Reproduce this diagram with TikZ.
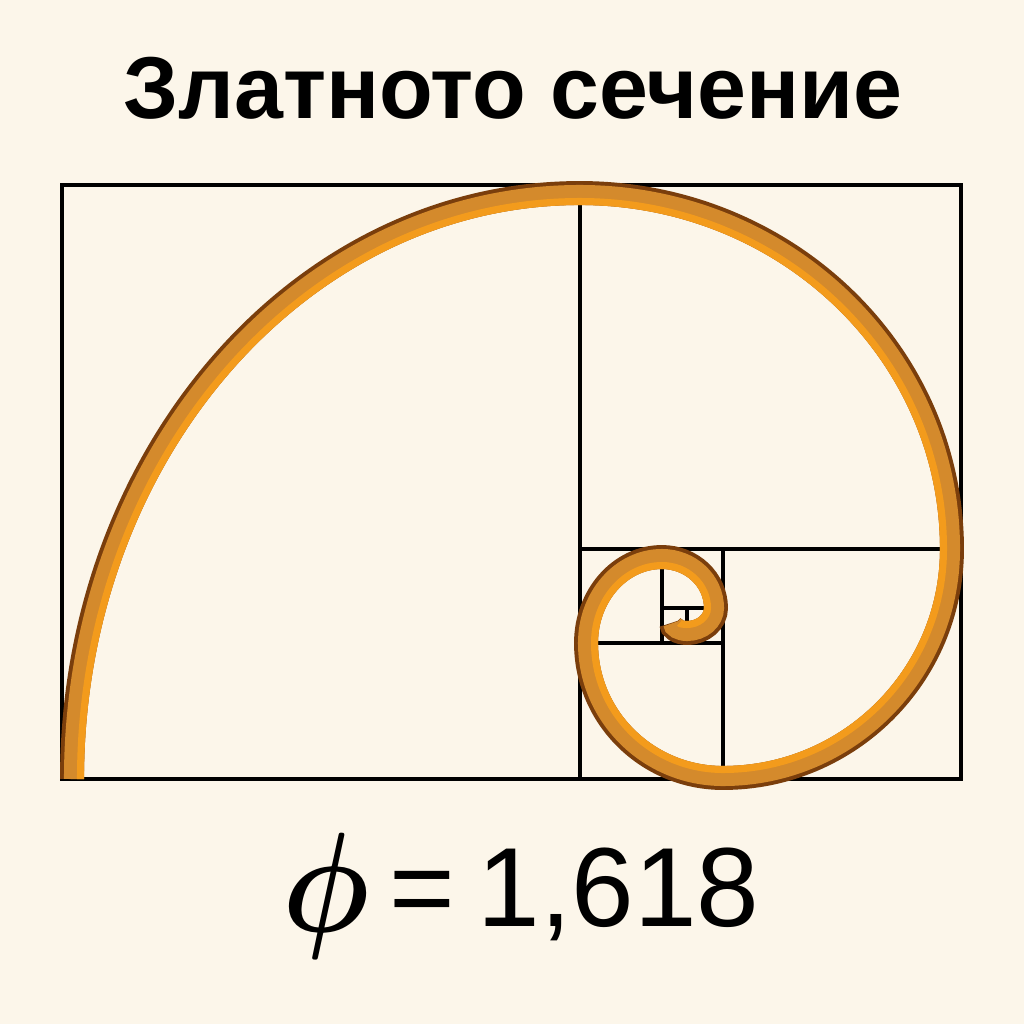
\documentclass[tikz,border=0pt]{standalone}
\usepackage{fontspec}
\setmainfont{Liberation Sans}

\definecolor{paper}{RGB}{252,246,234}
\definecolor{spiralbrown}{RGB}{122,62,12}
\definecolor{spiraltan}{RGB}{212,138,44}
\definecolor{spiralorange}{RGB}{243,155,28}

\begin{document}
\begin{tikzpicture}[
    x=0.01cm, y=-0.01cm,
    grid_line/.style={draw=black, line width=1.15pt},
    title_label/.style={font=\fontsize{25}{28}\selectfont\bfseries, inner sep=0pt, anchor=base},
    phi_label/.style={font=\Huge\boldmath, xscale=1.4, yscale=1.62, inner sep=0pt, anchor=base west},
    value_label/.style={font=\fontsize{32}{36}\selectfont, inner sep=0pt, anchor=base west}
]
    % ========== Canvas ==========
    \fill[paper] (0,0) rectangle (1024,1024);
    \useasboundingbox (0,0) rectangle (1024,1024);

    % Title
    \node[title_label] (title) at (513,118) {Златното сечение};

    % ========== Golden rectangle ==========
    \draw[grid_line] (62,185) rectangle (961,779);
    \draw[grid_line] (580,185) -- (580,779);
    \draw[grid_line] (580,549) -- (961,549);
    \draw[grid_line] (723,549) -- (723,779);
    \draw[grid_line] (580,643) -- (723,643);
    \draw[grid_line] (662,549) -- (662,643);
    \draw[grid_line] (662,608) -- (723,608);
    \draw[grid_line] (687,608) -- (687,643);

    % ========== Spiral (outer brown, tan body, orange inner edge) ==========
    \foreach \d/\w/\c in {0/6.8pt/spiralbrown, 2/5.7pt/spiraltan, 8.5/2pt/spiralorange} {
        \draw[\c, line width=\w] ({72+\d},779)
            arc[start angle=180, end angle=270, x radius={508-\d}, y radius={586-\d}]
            arc[start angle=270, end angle=360, x radius={372-\d}, y radius={356-\d}]
            arc[start angle=0, end angle=90, x radius={229-\d}, y radius={229-\d}]
            arc[start angle=90, end angle=180, x radius={137-\d}, y radius={135-\d}]
            arc[start angle=180, end angle=270, x radius={76-\d}, y radius={86-\d}]
            arc[start angle=270, end angle=360, x radius={54-\d}, y radius={51-\d}]
            arc[start angle=0, end angle=90, x radius={29-\d}, y radius={25-\d}]
            arc[start angle=90, end angle=180, x radius={16-\d}, y radius={10-\d}];
    }

    % ========== Ratio ==========
    \node[phi_label] (phi) at (282,931) {$\phi$};
    \node[value_label] (equals) at (389,926) {=};
    \node[value_label] (phi_value) at (477,926) {1,618};

\end{tikzpicture}
\end{document}
